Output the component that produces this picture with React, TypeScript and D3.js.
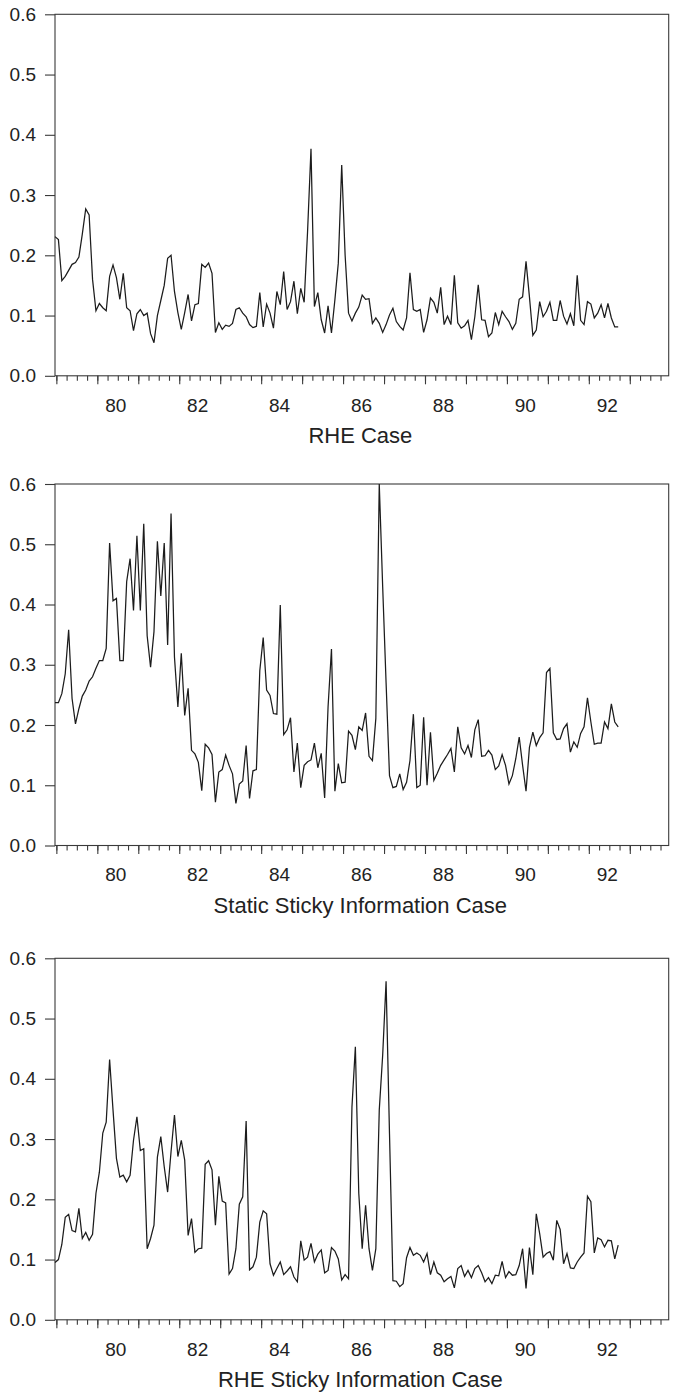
import React, { useRef, useEffect } from 'react';
import * as d3 from 'd3';

// monthly observations, starting 1979:01
const rheCase = [
  0.231, 0.226, 0.158, 0.165, 0.175, 0.185, 0.188, 0.197, 0.235, 0.277,
  0.267, 0.16, 0.108, 0.12, 0.113, 0.108, 0.165, 0.184, 0.163, 0.127,
  0.17, 0.113, 0.108, 0.075, 0.103, 0.11, 0.1, 0.104, 0.07, 0.055,
  0.1, 0.125, 0.15, 0.195, 0.2, 0.14, 0.105, 0.077, 0.105, 0.135,
  0.091, 0.118, 0.12, 0.185, 0.18, 0.187, 0.17, 0.072, 0.088, 0.077,
  0.084, 0.082, 0.087, 0.11, 0.113, 0.104, 0.098, 0.085, 0.08, 0.082,
  0.138,
  0.081, 0.119, 0.104, 0.079, 0.14, 0.118, 0.173, 0.11, 0.123, 0.157,
  0.103, 0.145, 0.122, 0.24, 0.377, 0.115, 0.138, 0.093, 0.071, 0.116,
  0.071, 0.126, 0.187, 0.35, 0.2, 0.104, 0.091, 0.104, 0.114, 0.134,
  0.127, 0.128, 0.087, 0.096, 0.087, 0.072, 0.085, 0.101, 0.112, 0.09,
  0.082, 0.076, 0.096, 0.171, 0.11, 0.107, 0.11, 0.072, 0.093, 0.129,
  0.122, 0.104, 0.147, 0.085, 0.099, 0.085, 0.167,
  0.088, 0.079, 0.083, 0.092, 0.06, 0.098, 0.151, 0.093, 0.092, 0.065,
  0.071, 0.105, 0.085, 0.107, 0.098, 0.09, 0.077, 0.087, 0.127, 0.131,
  0.19, 0.131, 0.067, 0.076, 0.123, 0.098, 0.107, 0.122, 0.092, 0.092,
  0.125, 0.099, 0.086, 0.103, 0.083, 0.167, 0.092, 0.085, 0.123, 0.119,
  0.096, 0.104, 0.118, 0.096, 0.12, 0.096, 0.081, 0.081,
];

const staticSticky = [
  0.237, 0.237, 0.252, 0.285, 0.358, 0.244, 0.202, 0.227, 0.248, 0.258,
  0.273, 0.28, 0.294, 0.307, 0.307, 0.327, 0.502, 0.406, 0.41, 0.307,
  0.307, 0.438, 0.476, 0.39, 0.514, 0.39, 0.534, 0.348, 0.296, 0.355,
  0.505, 0.414, 0.502, 0.333, 0.551, 0.313, 0.23, 0.319, 0.216, 0.261,
  0.158, 0.152, 0.138, 0.091, 0.168, 0.162, 0.151, 0.072, 0.122, 0.126,
  0.15, 0.133, 0.119, 0.07, 0.102, 0.107, 0.166, 0.078, 0.124, 0.126,
  0.29,
  0.345, 0.258, 0.249, 0.219, 0.218, 0.399, 0.184, 0.192, 0.212, 0.122,
  0.17, 0.096, 0.133, 0.139, 0.142, 0.17, 0.129, 0.153, 0.079, 0.23,
  0.326, 0.09, 0.136, 0.104, 0.105, 0.19, 0.183, 0.159, 0.197, 0.191,
  0.22, 0.148, 0.141, 0.211, 0.6, 0.43, 0.27, 0.116, 0.096, 0.098,
  0.119, 0.093, 0.105, 0.141, 0.218, 0.096, 0.1, 0.213, 0.1, 0.188,
  0.108, 0.12, 0.133, 0.142, 0.151, 0.161, 0.122, 0.197,
  0.162, 0.152, 0.166, 0.146, 0.192, 0.209, 0.148, 0.149, 0.158, 0.15,
  0.126, 0.132, 0.151, 0.133, 0.102, 0.116, 0.144, 0.18, 0.133, 0.09,
  0.163, 0.188, 0.166, 0.179, 0.187, 0.287, 0.294, 0.187, 0.176, 0.177,
  0.194, 0.202, 0.155, 0.172, 0.163, 0.186, 0.197, 0.245, 0.205, 0.168,
  0.17, 0.17, 0.205, 0.194, 0.235, 0.205, 0.197,
];

const rheSticky = [
  0.095, 0.1, 0.125, 0.17, 0.175, 0.148, 0.146, 0.185, 0.135, 0.145,
  0.132, 0.142, 0.21, 0.245, 0.31, 0.328, 0.432, 0.348, 0.268, 0.237,
  0.24, 0.229, 0.24, 0.298, 0.337, 0.281, 0.284, 0.118, 0.135, 0.157,
  0.27, 0.304, 0.254, 0.212, 0.279, 0.34, 0.271, 0.298, 0.265, 0.14,
  0.168, 0.112, 0.118, 0.119, 0.258, 0.264, 0.249, 0.157, 0.238, 0.197,
  0.194, 0.076, 0.085, 0.118, 0.192, 0.204, 0.33, 0.083, 0.088, 0.104,
  0.162,
  0.181, 0.176, 0.093, 0.074, 0.085, 0.096, 0.075, 0.081, 0.088, 0.071,
  0.063, 0.131, 0.099, 0.104, 0.127, 0.096, 0.109, 0.116, 0.078, 0.082,
  0.12, 0.114, 0.101, 0.066, 0.075, 0.068, 0.353, 0.453, 0.21, 0.118,
  0.19, 0.118, 0.082, 0.118, 0.348, 0.439, 0.562, 0.309, 0.065, 0.064,
  0.055, 0.06, 0.103, 0.12, 0.107, 0.111, 0.107, 0.096, 0.11, 0.075,
  0.096, 0.078, 0.074, 0.063, 0.068, 0.072, 0.053,
  0.085, 0.09, 0.072, 0.082, 0.07, 0.085, 0.09, 0.078, 0.063, 0.07,
  0.06, 0.074, 0.073, 0.097, 0.07, 0.08, 0.074, 0.075, 0.09, 0.118,
  0.052, 0.12, 0.075,
  0.176, 0.143, 0.104, 0.11, 0.113, 0.099, 0.165, 0.15, 0.093, 0.11,
  0.086, 0.085, 0.096, 0.104, 0.111, 0.205, 0.196, 0.111, 0.136, 0.133,
  0.121, 0.132, 0.131, 0.101, 0.124,
];

const panelTitles = ['RHE Case', 'Static Sticky Information Case', 'RHE Sticky Information Case'];
const yTicks = [0, 0.1, 0.2, 0.3, 0.4, 0.5, 0.6];
const yearLabels = ['80', '82', '84', '86', '88', '90', '92'];

const FONT = '"Liberation Sans", Arial, Helvetica, sans-serif';

const App = () => {
  const ref = useRef<SVGSVGElement>(null);

  useEffect(() => {
    const width = 674, height = 1398;
    const left = 55, right = 668.7;
    const tops = [14.3, 484, 958.3];
    const plotH = 361.5;
    const nMonths = 179.8; // axis runs 1979:01 .. end of 1993

    const svg = d3.select(ref.current)
      .attr('width', width)
      .attr('height', height);
    svg.selectAll('*').remove();

    const x = d3.scaleLinear().domain([0, nMonths]).range([left, right]);
    const series = [rheCase, staticSticky, rheSticky];

    series.forEach((values, p) => {
      const top = tops[p];
      const bottom = top + plotH;
      const y = d3.scaleLinear().domain([0, 0.6]).range([bottom, top]);
      const g = svg.append('g');

      // frame
      g.append('rect')
        .attr('x', left).attr('y', top)
        .attr('width', right - left).attr('height', plotH)
        .attr('fill', 'none')
        .attr('stroke', '#3a3a3a')
        .attr('stroke-width', 1.1);

      // y axis
      const yAxis = g.append('g')
        .attr('transform', `translate(${left},0)`)
        .call(d3.axisLeft(y).tickValues(yTicks).tickSize(10).tickPadding(9).tickFormat(d3.format('.1f')));
      yAxis.select('.domain').remove();
      yAxis.selectAll('line').attr('stroke', '#3a3a3a').attr('stroke-width', 1.1);
      yAxis.selectAll('text')
        .attr('fill', '#222')
        .style('font-family', FONT)
        .style('font-size', '19px');

      // x ticks: quarterly minor, yearly major
      const minor = g.append('g')
        .attr('transform', `translate(0,${bottom})`)
        .call(d3.axisBottom(x).tickValues(d3.range(0, 178, 3).map(d => d + 0.4)).tickSize(5).tickFormat(() => ''));
      const major = g.append('g')
        .attr('transform', `translate(0,${bottom})`)
        .call(d3.axisBottom(x).tickValues(d3.range(0, 178, 12).map(d => d + 0.4)).tickSize(8.5).tickFormat(() => ''));
      [minor, major].forEach(a => {
        a.select('.domain').remove();
        a.selectAll('line').attr('stroke', '#3a3a3a').attr('stroke-width', 1.1);
      });

      // year labels centred within their year
      g.selectAll('text.year')
        .data(yearLabels)
        .enter()
        .append('text')
          .attr('class', 'year')
          .attr('x', d => x((+d - 79) * 12 + 5.8))
          .attr('y', bottom + 35.7)
          .attr('text-anchor', 'middle')
          .attr('fill', '#222')
          .style('font-family', FONT)
          .style('font-size', '19px')
          .text(d => d);

      // title
      g.append('text')
        .attr('x', (left + right) / 2 - 1.5)
        .attr('y', bottom + 67.4)
        .attr('text-anchor', 'middle')
        .attr('fill', '#222')
        .style('font-family', FONT)
        .style('font-size', '22px')
        .text(panelTitles[p]);

      // the series
      const line = d3.line<number>()
        .x((d, i) => x(i))
        .y(d => y(d));
      g.append('path')
        .datum(values)
        .attr('d', line)
        .attr('fill', 'none')
        .attr('stroke', '#1c1c1c')
        .attr('stroke-width', 1.25);
    });
  }, []);

  return (
    <svg ref={ref} style={{ position: 'absolute', left: 0, top: 0, background: '#fff' }} />
  );
};

export default App;
